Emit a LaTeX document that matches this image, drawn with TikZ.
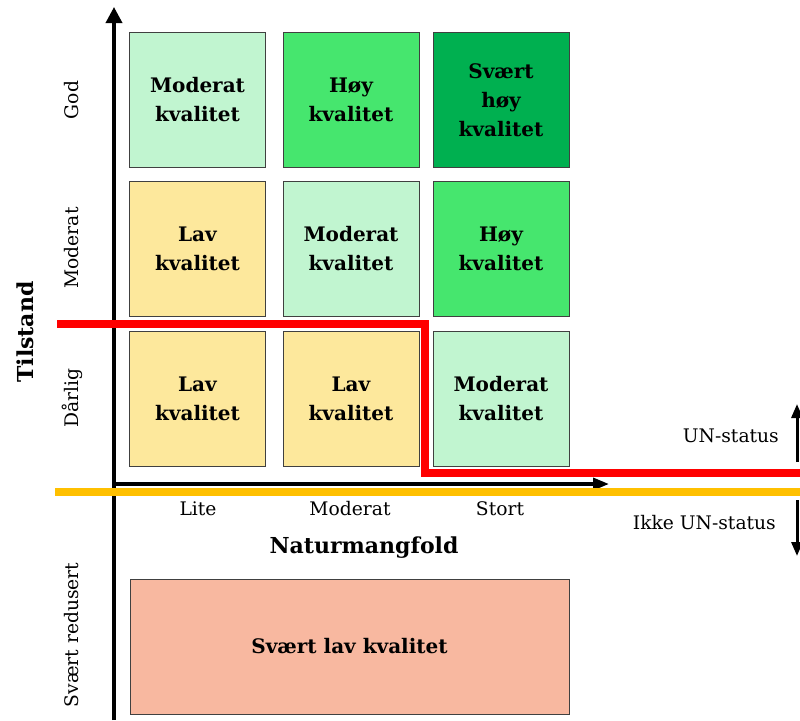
\documentclass[tikz,border=0pt]{standalone}
\usepackage{fontspec}
\setmainfont{DejaVu Serif}
\usetikzlibrary{arrows.meta}
\definecolor{lightgreen}{HTML}{C1F5D0}
\definecolor{midgreen}{HTML}{46E66E}
\definecolor{darkgreen}{HTML}{00B050}
\definecolor{paleyellow}{HTML}{FDE89C}
\definecolor{salmon}{HTML}{F8B8A0}
\definecolor{unred}{HTML}{FF0000}
\definecolor{unorange}{HTML}{FFC000}
\definecolor{boxedge}{HTML}{404040}
\tikzset{
  cell/.style={draw=boxedge, line width=1pt, minimum width=136pt, minimum height=135pt,
    inner sep=0pt, align=center, font=\fontsize{20}{29}\selectfont\bfseries},
  vaxis/.style={line width=3.5pt, -{Triangle[length=16pt,width=16pt]}},
  haxis/.style={line width=3.5pt, -{Triangle[length=16pt,width=12pt]}},
  statusarrow/.style={line width=3pt, -{Triangle[length=14pt,width=11pt]}},
  lbl/.style={font=\fontsize{18.7}{22}\selectfont, inner sep=0pt},
  title/.style={font=\fontsize{22}{26}\selectfont\bfseries, inner sep=0pt},
  boundary/.style={line width=8pt},
}
\begin{document}
\begin{tikzpicture}[x=1pt,y=-1pt]
\useasboundingbox (0,0) rectangle (800,720);
% quality grid
\node[cell, fill=lightgreen] (g1) at (197.5,100) {Moderat\\kvalitet};
\node[cell, fill=midgreen]   (g2) at (351,100)   {Høy\\kvalitet};
\node[cell, fill=darkgreen]  (g3) at (501,100)   {Svært\\høy\\kvalitet};
\node[cell, fill=paleyellow] (m1) at (197.5,248.5) {Lav\\kvalitet};
\node[cell, fill=lightgreen] (m2) at (351,248.5)   {Moderat\\kvalitet};
\node[cell, fill=midgreen]   (m3) at (501,248.5)   {Høy\\kvalitet};
\node[cell, fill=paleyellow] (d1) at (197.5,399) {Lav\\kvalitet};
\node[cell, fill=paleyellow] (d2) at (351,399)   {Lav\\kvalitet};
\node[cell, fill=lightgreen] (d3) at (501,399)   {Moderat\\kvalitet};
\node[cell, fill=salmon, minimum width=439pt] (sr) at (349.5,646.5) {Svært lav kvalitet};
% axes
\coordinate (origin) at (114,484);
\coordinate (ytop) at (114,7);
\coordinate (ybot) at (114,720);
\coordinate (xend) at (609,484);
\draw[line width=3.5pt] (ybot) -- (origin);
\draw[vaxis] (origin) -- (ytop);
\draw[haxis] (origin) -- (xend);
% axis labels
\node[lbl, rotate=90] (lgod) at (72,100) {God};
\node[lbl, rotate=90] (lmod) at (72,248) {Moderat};
\node[lbl, rotate=90] (ldar) at (72,398) {Dårlig};
\node[lbl, rotate=90] (lsr)  at (72,635) {Svært redusert};
\node[title, rotate=90] (tilstand) at (25,332) {Tilstand};
\node[lbl] (xlite) at (198,509) {Lite};
\node[lbl] (xmod)  at (350,509) {Moderat};
\node[lbl] (xstor) at (500,509) {Stort};
\node[title] (natur) at (364,548) {Naturmangfold};
% status boundaries
\coordinate (r0) at (57,323.5);
\coordinate (r1) at (425,323.5);
\coordinate (r2) at (425,473);
\coordinate (r3) at (800,473);
\draw[boundary, unred] (r0) -- (r1) -- (r2) -- (r3);
\coordinate (o0) at (55,492);
\coordinate (o1) at (800,492);
\draw[boundary, unorange] (o0) -- (o1);
% status indicators
\node[lbl, anchor=east] (un) at (779,436) {UN-status};
\node[lbl, anchor=east] (ikke) at (776,523) {Ikke UN-status};
\coordinate (ua) at (797,462);
\coordinate (ub) at (797,404);
\coordinate (da) at (797,500);
\coordinate (db) at (797,556);
\draw[statusarrow] (ua) -- (ub);
\draw[statusarrow] (da) -- (db);
\end{tikzpicture}
\end{document}
